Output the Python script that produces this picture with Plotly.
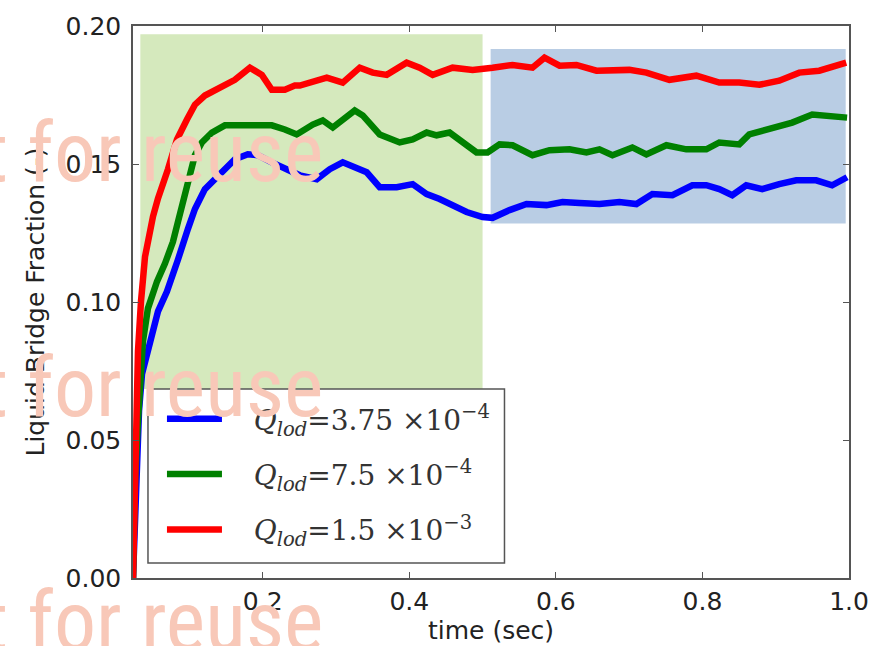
import plotly.graph_objects as go

# ---------------- data ----------------
t_blue = [0.023, 0.0271, 0.0312, 0.0353, 0.0462, 0.0571, 0.0693, 0.0775, 0.0843, 0.098,
          0.1075, 0.1211, 0.1348, 0.1484, 0.162, 0.1797, 0.1934, 0.2124, 0.2302, 0.2506,
          0.2738, 0.2915, 0.3092, 0.3283, 0.3419, 0.3596, 0.3828, 0.4046, 0.4237, 0.4414,
          0.4591, 0.4782, 0.5, 0.5136, 0.5368, 0.56, 0.5872, 0.6091, 0.6322, 0.6595,
          0.6867, 0.7099, 0.7317, 0.759, 0.7862, 0.8053, 0.823, 0.8407, 0.8598, 0.8816,
          0.9048, 0.928, 0.9552, 0.977, 0.9974]
v_blue = [0.0, 0.0389, 0.0605, 0.0739, 0.0858, 0.0966, 0.1038, 0.111, 0.1153, 0.1265,
          0.1337, 0.1409, 0.1445, 0.1481, 0.1517, 0.1535, 0.1532, 0.1506, 0.1485, 0.1459,
          0.1445, 0.1481, 0.1506, 0.1488, 0.147, 0.1416, 0.1416, 0.1427, 0.1391, 0.1373,
          0.1351, 0.1326, 0.1308, 0.1305, 0.1333, 0.1355, 0.1351, 0.1362, 0.1359, 0.1355,
          0.1362, 0.1355, 0.1391, 0.1387, 0.1423, 0.1423, 0.1409, 0.1387, 0.1423, 0.1409,
          0.1427, 0.1441, 0.1441, 0.1423, 0.1452]

t_green = [0.023, 0.0257, 0.0298, 0.0325, 0.0366, 0.0434, 0.0557, 0.0666, 0.0775, 0.0843,
           0.0925, 0.098, 0.1075, 0.117, 0.1307, 0.1484, 0.1716, 0.1934, 0.2124, 0.2302,
           0.2465, 0.2683, 0.2819, 0.2956, 0.3256, 0.3365, 0.3596, 0.3869, 0.4046, 0.4237,
           0.4373, 0.455, 0.4687, 0.4918, 0.5068, 0.5232, 0.5409, 0.5681, 0.5913, 0.6186,
           0.6417, 0.6595, 0.6772, 0.7044, 0.7235, 0.7508, 0.778, 0.8053, 0.823, 0.8503,
           0.8639, 0.8912, 0.9225, 0.9498, 0.977, 0.9974]
v_green = [0.0, 0.0353, 0.0569, 0.0739, 0.0858, 0.0977, 0.1074, 0.1139, 0.1218, 0.129,
           0.138, 0.1445, 0.1532, 0.1578, 0.1614, 0.164, 0.164, 0.1643, 0.164, 0.1625,
           0.1607, 0.1643, 0.1658, 0.1632, 0.1694, 0.1676, 0.1607, 0.1578, 0.1589, 0.1614,
           0.1604, 0.1614, 0.1586, 0.1542, 0.1542, 0.1571, 0.1568, 0.1532, 0.155, 0.1553,
           0.1542, 0.1553, 0.1532, 0.156, 0.1535, 0.1568, 0.1553, 0.1553, 0.1578, 0.1571,
           0.1607, 0.1625, 0.165, 0.1679, 0.1672, 0.1668]

t_red = [0.023, 0.0257, 0.0285, 0.0298, 0.0339, 0.0394, 0.0503, 0.0571, 0.0707, 0.083,
         0.0966, 0.1075, 0.1211, 0.1443, 0.162, 0.1825, 0.1988, 0.2124, 0.2302, 0.2438,
         0.2506, 0.2874, 0.3092, 0.3324, 0.3501, 0.3692, 0.3964, 0.4141, 0.4319, 0.4591,
         0.4864, 0.5136, 0.5409, 0.5681, 0.5845, 0.605, 0.6281, 0.6554, 0.7003, 0.7235,
         0.7549, 0.7917, 0.823, 0.8503, 0.8776, 0.9048, 0.9321, 0.9594, 0.9962]
v_red = [0.0, 0.028, 0.0677, 0.0822, 0.1002, 0.1164, 0.1310, 0.1375, 0.1481, 0.1589,
         0.1661, 0.1715, 0.1748, 0.1784, 0.1805, 0.1849, 0.1823, 0.1769, 0.1769, 0.1784,
         0.1784, 0.1813, 0.1795, 0.1849, 0.1831, 0.1823, 0.1867, 0.1849, 0.1823, 0.1849,
         0.1841, 0.1849, 0.1859, 0.1849, 0.1885, 0.1856, 0.1859, 0.1838, 0.1841, 0.1831,
         0.1805, 0.182, 0.1795, 0.1795, 0.1787, 0.1802, 0.1831, 0.1838, 0.1867]

series_names = [
    "<i>Q</i><sub><i>lod</i></sub>=3.75 ×10<sup>−4</sup>",
    "<i>Q</i><sub><i>lod</i></sub>=7.5 ×10<sup>−4</sup>",
    "<i>Q</i><sub><i>lod</i></sub>=1.5 ×10<sup>−3</sup>",
]
series_colors = ["#0000ff", "#008000", "#ff0000"]

# highlighted windows (time range, fraction range)
green_window = dict(t0=0.033, t1=0.5, v0=0.0685, v1=0.197)
blue_window = dict(t0=0.511, t1=0.9955, v0=0.1284, v1=0.1917)

x_ticks = [0.2, 0.4, 0.6, 0.8, 1.0]
y_ticks = [0.0, 0.05, 0.10, 0.15, 0.20]

watermark_text = "Not for reuse"

# ---------------- figure ----------------
W, H = 881, 646
ML, MR, MT, MB = 133, 31, 23, 68
PW, PH = W - ML - MR, H - MT - MB


def px2paper_x(px):
    return (px - ML) / PW


def px2paper_y(py):
    return (H - MB - py) / PH


fig = go.Figure()
for i, (tt, vv) in enumerate([(t_blue, v_blue), (t_green, v_green), (t_red, v_red)]):
    fig.add_trace(go.Scatter(
        x=tt, y=vv, mode="lines", name="\u00a0\u00a0\u00a0" + series_names[i],
        line=dict(color=series_colors[i], width=6.5),
        legendgroup=f"g{i}",
    ))

fig.add_shape(type="rect", xref="x", yref="y",
              x0=green_window["t0"], x1=green_window["t1"],
              y0=green_window["v0"], y1=green_window["v1"],
              fillcolor="#d5e9bd", line=dict(width=0), layer="below")
fig.add_shape(type="rect", xref="x", yref="y",
              x0=blue_window["t0"], x1=blue_window["t1"],
              y0=blue_window["v0"], y1=blue_window["v1"],
              fillcolor="#b9cde4", line=dict(width=0), layer="below")

# legend frame
fig.add_shape(type="rect", xref="paper", yref="paper",
              x0=px2paper_x(148), x1=px2paper_x(505),
              y0=px2paper_y(563), y1=px2paper_y(388),
              fillcolor="white", line=dict(color="#555555", width=1.5), layer="above")

for py in [150, 386, 622]:
    fig.add_annotation(text=watermark_text, xref="paper", yref="paper",
                       x=px2paper_x(325), y=px2paper_y(py),
                       xanchor="right", yanchor="middle", showarrow=False,
                       font=dict(family="Liberation Sans Narrow, Roboto Condensed, Liberation Sans, sans-serif",
                                 size=84, color="#f8c8b8"))

axis_font = dict(family="DejaVu Sans", size=25, color="#222222")
fig.update_layout(
    width=W, height=H,
    margin=dict(l=ML, r=MR, t=MT, b=MB, pad=0),
    paper_bgcolor="white", plot_bgcolor="white",
    showlegend=True,
    legend=dict(
        x=px2paper_x(162), y=px2paper_y(393), xanchor="left", yanchor="top",
        bgcolor="rgba(0,0,0,0)", borderwidth=0,
        font=dict(family="DejaVu Serif", size=28, color="#333333"),
        itemwidth=55, tracegroupgap=16, traceorder="grouped",
    ),
    xaxis=dict(
        range=[0.023, 1.0], tickvals=x_ticks, tickformat=".1f",
        showline=True, mirror="ticks", linecolor="#555555", linewidth=1.5,
        ticks="inside", ticklen=6, tickcolor="#555555",
        showgrid=False, zeroline=False, tickfont=axis_font,
        title=dict(text="time (sec)", font=axis_font, standoff=0),
    ),
    yaxis=dict(
        range=[0, 0.2], tickvals=y_ticks, tickformat=".2f",
        showline=True, mirror="ticks", linecolor="#555555", linewidth=1.5,
        ticks="inside", ticklen=6, tickcolor="#555555",
        showgrid=False, zeroline=False, tickfont=axis_font,
        ticklabelstandoff=5,
        title=dict(text="Liquid Bridge Fraction (-)", font=axis_font, standoff=14),
    ),
)

fig.write_html("out.html")
